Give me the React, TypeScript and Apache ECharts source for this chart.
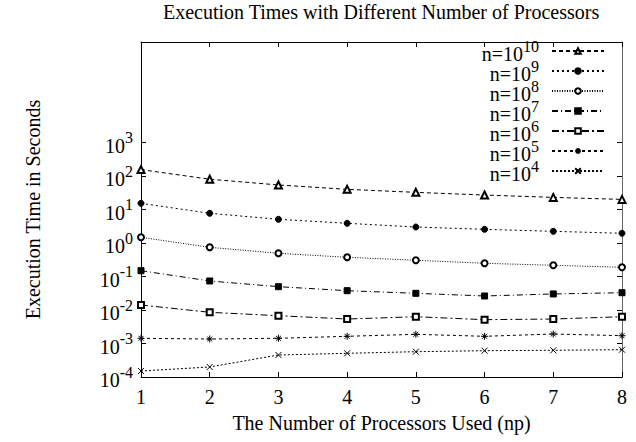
import React, { useEffect, useRef } from "react";
import * as echarts from "echarts";

const processors = [1, 2, 3, 4, 5, 6, 7, 8];
const seriesNames = ["n=10^10", "n=10^9", "n=10^8", "n=10^7", "n=10^6", "n=10^5", "n=10^4"];
const t1e10 = [155, 80, 54, 40, 32.5, 27, 23, 20];
const t1e9 = [15.3, 7.7, 5.1, 3.87, 3.0, 2.56, 2.23, 1.95];
const t1e8 = [1.48, 0.745, 0.493, 0.374, 0.305, 0.248, 0.216, 0.188];
const t1e7 = [0.149, 0.0735, 0.0497, 0.0377, 0.0315, 0.0262, 0.0301, 0.0328];
const t1e6 = [0.0141, 0.00853, 0.00676, 0.00538, 0.0063, 0.00514, 0.00538, 0.0063];
const t1e5 = [0.00143, 0.00136, 0.00143, 0.00164, 0.00188, 0.00164, 0.00192, 0.00171];
const t1e4 = [0.000151, 0.000199, 0.000454, 0.00051, 0.000569, 0.00061, 0.000627, 0.000653];
const yTickValues = [0.0001, 0.001, 0.01, 0.1, 1, 10, 100, 1000];

const FONT = "Liberation Serif";

const symbols = [
  "emptyTriangle",
  "circle",
  "emptyCircle",
  "rect",
  "emptyRect",
  "path://M5,0L5,10M0,5L10,5M1.5,1.5L8.5,8.5M8.5,1.5L1.5,8.5",
  "path://M0,0L10,10M10,0L0,10",
];
const symbolSizes = [7, 6, 6, 6, 6, 7, 6];
const dashes: number[][] = [
  [4, 3],
  [2, 3],
  [1, 1.5],
  [6, 3, 1, 3],
  [7, 3, 2, 3],
  [3, 3],
  [2, 2],
];

const supRich = {
  b: { fontFamily: FONT, fontSize: 20, color: "#000", verticalAlign: "bottom", lineHeight: 20 },
  sup: { fontFamily: FONT, fontSize: 16, color: "#000", verticalAlign: "top", padding: [0, 0, 10, 0] },
};

export default function App() {
  const ref = useRef<HTMLDivElement>(null);
  useEffect(() => {
    if (!ref.current) return;
    const chart = echarts.init(ref.current, null, { renderer: "svg" });
    const allData = [t1e10, t1e9, t1e8, t1e7, t1e6, t1e5, t1e4];
    const series = allData.map((vals, i) => ({
      name: seriesNames[i],
      type: "line",
      data: processors.map((p, j) => [p, vals[j]]),
      symbol: symbols[i],
      symbolSize: symbolSizes[i],
      showSymbol: true,
      lineStyle: { color: "#000", width: 1, type: dashes[i] },
      itemStyle: { color: "#000", borderColor: "#000", borderWidth: 1 },
      emphasis: { disabled: true },
    }));
    const yLabelFormatter = (v: number) => {
      const e = Math.round(Math.log10(v));
      return `{b|10}{sup|${e}}`;
    };
    chart.setOption({
      animation: false,
      backgroundColor: "#fff",
      title: {
        text: "Execution Times with Different Number of Processors",
        left: 163,
        top: 2,
        padding: 0,
        textStyle: { fontFamily: FONT, fontSize: 20, fontWeight: "normal", color: "#000" },
      },
      grid: { left: 141, right: 14, top: 42, bottom: 65, containLabel: false },
      legend: {
        orient: "vertical",
        align: "right",
        right: 31,
        top: 38,
        padding: 0,
        itemWidth: 52,
        itemHeight: 7,
        itemGap: -6,
        selectedMode: false,
        formatter: (name: string) => {
          const p = name.split("^");
          return `{b|${p[0]}}{sup|${p[1]}}`;
        },
        textStyle: {
          fontFamily: FONT,
          color: "#000",
          rich: {
            b: supRich.b,
            sup: { ...supRich.sup, padding: [0, 8, 10, 0] },
          },
        },
        data: seriesNames,
      },
      xAxis: [
        {
          type: "value",
          min: 1,
          max: 8,
          interval: 1,
          position: "bottom",
          name: "The Number of Processors Used (np)",
          nameLocation: "middle",
          nameGap: 36,
          nameTextStyle: { fontFamily: FONT, fontSize: 20, color: "#000" },
          axisLine: { show: true, lineStyle: { color: "#000", width: 1 } },
          axisTick: { show: true, inside: true, length: 5, lineStyle: { color: "#000" } },
          axisLabel: { fontFamily: FONT, fontSize: 20, color: "#000", margin: 10 },
          splitLine: { show: false },
        },
        {
          type: "value",
          min: 1,
          max: 8,
          interval: 1,
          position: "top",
          axisLine: { show: true, lineStyle: { color: "#000", width: 1 } },
          axisTick: { show: true, inside: true, length: 5, lineStyle: { color: "#000" } },
          axisLabel: { show: false },
          splitLine: { show: false },
        },
      ],
      yAxis: [
        {
          type: "log",
          logBase: 10,
          min: 0.0001,
          max: 1000000,
          position: "left",
          name: "Execution Time in Seconds",
          nameLocation: "middle",
          nameGap: 98,
          nameTextStyle: { fontFamily: FONT, fontSize: 20, color: "#000" },
          axisLine: { show: true, lineStyle: { color: "#000", width: 1 } },
          axisTick: { show: true, inside: true, length: 5, lineStyle: { color: "#000" }, customValues: yTickValues },
          axisLabel: {
            fontFamily: FONT,
            fontSize: 20,
            color: "#000",
            margin: 8,
            customValues: yTickValues,
            formatter: yLabelFormatter,
            rich: supRich,
          },
          splitLine: { show: false },
        },
        {
          type: "log",
          logBase: 10,
          min: 0.0001,
          max: 1000000,
          position: "right",
          axisLine: { show: true, lineStyle: { color: "#666", width: 1 } },
          axisTick: { show: true, inside: true, length: 5, lineStyle: { color: "#000" }, customValues: yTickValues },
          axisLabel: { show: false },
          splitLine: { show: false },
        },
      ],
      series,
    });
    return () => chart.dispose();
  }, []);
  return <div ref={ref} style={{ width: 636, height: 442, position: "absolute", left: 0, top: 0 }} />;
}
